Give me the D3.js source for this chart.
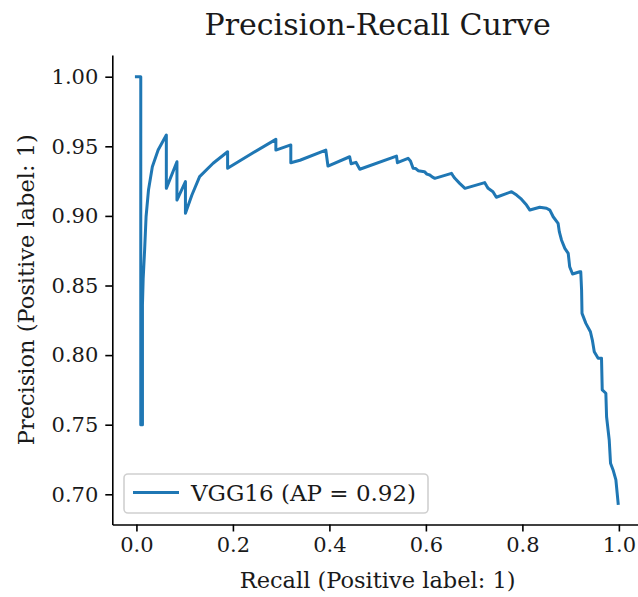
<!DOCTYPE html>
<html>
<head>
<meta charset="utf-8">
<script src="https://cdn.jsdelivr.net/npm/d3@7"></script>
<style>
  body { margin: 0; background: #fff; }
  svg text { font-family: "DejaVu Serif", serif; fill: #1a1a1a; }
</style>
</head>
<body>
<script>
// PR curve, in plot order (recall, precision)
const recall = [
  0.0, 0.009, 0.009, 0.0125, 0.0125, 0.014, 0.017, 0.020, 0.025, 0.033, 0.045, 0.062,
  0.062, 0.084, 0.084, 0.1016, 0.1016, 0.115, 0.131, 0.159, 0.189,
  0.189, 0.235, 0.289, 0.289, 0.32, 0.32, 0.339, 0.3925, 0.397, 0.442, 0.445, 0.455, 0.463,
  0.539, 0.541, 0.563, 0.568, 0.5735, 0.579, 0.584, 0.597, 0.602, 0.608, 0.613, 0.6185,
  0.653, 0.656, 0.66, 0.67, 0.681, 0.722, 0.726, 0.729, 0.739, 0.746, 0.7775, 0.788, 0.798, 0.8086, 0.8155,
  0.836, 0.850, 0.857, 0.8638, 0.874, 0.8765, 0.881, 0.888, 0.895, 0.898, 0.904,
  0.919, 0.921, 0.9227, 0.9236, 0.9316, 0.941, 0.945, 0.949, 0.957, 0.964, 0.9655, 0.973,
  0.9745, 0.980, 0.9827, 0.988, 0.9938, 0.9965, 0.9985
];
const precision = [
  1.0, 1.0, 0.75, 0.75, 0.836, 0.855, 0.8755, 0.8994, 0.9186, 0.9353, 0.9473, 0.9581,
  0.9198, 0.9389, 0.9114, 0.9246, 0.9019, 0.915, 0.9282, 0.9378, 0.9461,
  0.9342, 0.9440, 0.9550, 0.9473, 0.9510, 0.9382, 0.9400, 0.9473, 0.9358, 0.9425, 0.9375, 0.9385, 0.9335,
  0.9430, 0.9382, 0.9414, 0.9395, 0.9342, 0.9340, 0.9325, 0.9318, 0.9300, 0.9294, 0.9280, 0.9270,
  0.9306, 0.9290, 0.9270, 0.9234, 0.9198, 0.9239, 0.9215, 0.9198, 0.9174, 0.9134, 0.9174, 0.9150, 0.9120, 0.9078, 0.9042,
  0.9062, 0.9055, 0.9042, 0.8994, 0.8947, 0.8887, 0.8827, 0.8767, 0.8731, 0.8635, 0.8583,
  0.8599, 0.8599, 0.8468, 0.8300, 0.8228, 0.8168, 0.8108, 0.8024, 0.7977, 0.7977, 0.7750, 0.7726,
  0.7557, 0.7390, 0.7223, 0.7175, 0.7103, 0.7007, 0.6935
];

const xTicks = [0.0, 0.2, 0.4, 0.6, 0.8, 1.0];
const yTicks = [0.70, 0.75, 0.80, 0.85, 0.90, 0.95, 1.00];
const seriesName = "VGG16 (AP = 0.92)";

const width = 638, height = 597;
const mLeft = 112.3, mRight = 643, mTop = 55, mBottom = 524.5;
const blue = "#1f77b4";

const svg = d3.select("body").append("svg")
    .attr("width", width)
    .attr("height", height);

svg.append("rect")
    .attr("width", width)
    .attr("height", height)
    .attr("fill", "#fff");

const x = d3.scaleLinear().domain([-0.05, 1.05]).range([mLeft, mRight]);
const y = d3.scaleLinear().domain([0.6783, 1.0156]).range([mBottom, mTop]);

// curve
const pts = recall.map(function(r, i) { return [r, precision[i]]; });
const line = d3.line()
    .x(function(d) { return x(d[0]); })
    .y(function(d) { return y(d[1]); });

svg.append("path")
    .attr("d", line(pts))
    .attr("fill", "none")
    .attr("stroke", blue)
    .attr("stroke-width", 3)
    .attr("stroke-linejoin", "round")
    .attr("stroke-linecap", "square");

// axes
const xAxis = svg.append("g")
    .attr("transform", "translate(0," + mBottom + ")")
    .call(d3.axisBottom(x).tickValues(xTicks).tickFormat(d3.format(".1f"))
        .tickSize(7).tickPadding(6).tickSizeOuter(0));

const yAxis = svg.append("g")
    .attr("transform", "translate(" + mLeft + ",0)")
    .call(d3.axisLeft(y).tickValues(yTicks).tickFormat(d3.format(".2f"))
        .tickSize(7).tickPadding(7).tickSizeOuter(0));

[xAxis, yAxis].forEach(function(a) {
    a.select(".domain").attr("stroke", "#000").attr("stroke-width", 1.6);
    a.selectAll(".tick line").attr("stroke", "#000").attr("stroke-width", 1.6);
    a.selectAll(".tick text")
        .attr("fill", "#1a1a1a")
        .style("font-family", "DejaVu Serif")
        .style("font-size", "21px");
});

// title and labels
svg.append("text")
    .attr("x", (mLeft + mRight) / 2)
    .attr("y", 35)
    .attr("text-anchor", "middle")
    .style("font-size", "30px")
    .text("Precision-Recall Curve");

svg.append("text")
    .attr("x", (mLeft + mRight) / 2)
    .attr("y", 588)
    .attr("text-anchor", "middle")
    .style("font-size", "22.5px")
    .text("Recall (Positive label: 1)");

svg.append("text")
    .attr("transform", "translate(34," + (mTop + mBottom) / 2 + ") rotate(-90)")
    .attr("text-anchor", "middle")
    .style("font-size", "22.5px")
    .text("Precision (Positive label: 1)");

// legend
const legend = svg.append("g");
legend.append("rect")
    .attr("x", 124).attr("y", 474)
    .attr("width", 304).attr("height", 39)
    .attr("rx", 4)
    .attr("fill", "#fff").attr("fill-opacity", 0.8)
    .attr("stroke", "#d0d0d0").attr("stroke-width", 1.6);
legend.append("line")
    .attr("x1", 133).attr("x2", 179)
    .attr("y1", 492.5).attr("y2", 492.5)
    .attr("stroke", blue).attr("stroke-width", 3);
legend.append("text")
    .attr("x", 191).attr("y", 500.5)
    .style("font-size", "23px")
    .text(seriesName);
</script>
</body>
</html>
